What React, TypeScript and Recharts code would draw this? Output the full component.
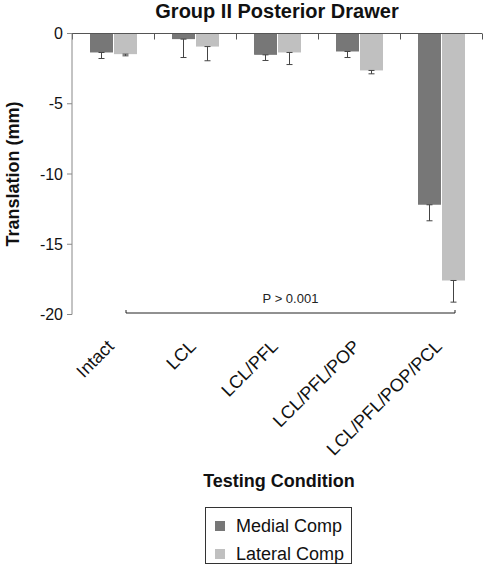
import { BarChart, Bar, XAxis, YAxis, ErrorBar, ReferenceLine, Legend, Label } from "recharts"

const FONT = '"Liberation Sans", Arial, sans-serif'

const conditions = ["Intact", "LCL", "LCL/PFL", "LCL/PFL/POP", "LCL/PFL/POP/PCL"]
const seriesNames = ["Medial Comp", "Lateral Comp"]
const medialComp = [-1.35, -0.4, -1.52, -1.28, -12.19]
const medialSd = [0.43, 1.31, 0.4, 0.43, 1.14]
const lateralComp = [-1.47, -0.93, -1.35, -2.63, -17.58]
const lateralSd = [0.12, 1.01, 0.86, 0.24, 1.54]
const yTicks = [0, -5, -10, -15, -20]

const data = conditions.map((c, i) => ({
  condition: c,
  medial: medialComp[i],
  medialErr: [medialSd[i], 0],
  lateral: lateralComp[i],
  lateralErr: [lateralSd[i], 0],
}))

function ConditionTick({ x, y, payload }: any) {
  const tx = x + 2
  const ty = y + 25
  return (
    <text x={tx} y={ty} transform={`rotate(-45 ${tx} ${ty})`} textAnchor="end" fontSize={18} fill="#111" fontFamily={FONT}>
      {payload.value}
    </text>
  )
}

// zero line with small downward ticks at the category boundaries
function ZeroLine({ x1, y1, x2 }: any) {
  const n = conditions.length
  const step = (x2 - x1) / (n - 1)
  const left = x1 - step / 2
  const y = Math.floor(y1) + 0.5
  const marks = Array.from({ length: n + 1 }, (_, i) => Math.floor(left + i * step) + 0.5)
  return (
    <g>
      <line x1={left} y1={y} x2={left + n * step} y2={y} stroke="#555" strokeWidth={1} />
      {marks.map((m) => (
        <line key={m} x1={m} y1={y} x2={m} y2={y + 6} stroke="#555" strokeWidth={1} />
      ))}
    </g>
  )
}

function Bracket({ x1, y1, x2 }: any) {
  const a = x1 + 13
  const b = x2 + 14
  const y = y1 - 1.5
  return (
    <g>
      <path d={`M${a},${y - 3}V${y}H${b}V${y - 3}`} stroke="#222" strokeWidth={1} fill="none" />
      <text x={(a + b) / 2} y={y - 10} textAnchor="middle" fontSize={13} fill="#222" fontFamily={FONT}>
        P &gt; 0.001
      </text>
    </g>
  )
}

function LegendBox({ payload }: any) {
  const items = seriesNames.map((n) => (payload || []).find((p: any) => p.value === n)).filter(Boolean)
  return (
    <div style={{ width: 147, height: 57, boxSizing: "border-box", border: "1px solid #333", padding: "4px 0 0 9px", fontFamily: FONT }}>
      {items.map((p: any) => (
        <div key={p.value} style={{ display: "flex", alignItems: "center", height: 28, fontSize: 18, color: "#111" }}>
          <span style={{ width: 10, height: 10, background: p.color, marginRight: 11 }} />
          {p.value}
        </div>
      ))}
    </div>
  )
}

export default function App() {
  return (
    <div style={{ position: "absolute", left: 0, top: 0, width: 484, height: 564, background: "#fff", fontFamily: FONT }}>
      <div style={{ position: "absolute", left: 72, width: 410, top: 0, textAlign: "center", fontWeight: "bold", fontSize: 20, color: "#111" }}>
        Group II Posterior Drawer
      </div>
      <BarChart width={484} height={564} data={data} margin={{ top: 33.5, right: 2, left: 0, bottom: 0 }} barSize={23} barGap={1}>
        <XAxis
          dataKey="condition"
          height={249.5}
          axisLine={false}
          tickLine={false}
          interval={0}
          tick={<ConditionTick />}
        >
          <Label
            content={({ viewBox }: any) => (
              <text x={279} y={viewBox.y + 172} textAnchor="middle" fontSize={18} fontWeight="bold" fill="#111" fontFamily={FONT}>
                Testing Condition
              </text>
            )}
          />
        </XAxis>
        <YAxis
          domain={[-20, 0]}
          ticks={yTicks}
          interval={0}
          width={72}
          tickSize={5}
          tickMargin={4}
          stroke="#888"
          tick={{ fontSize: 16, fill: "#111", fontFamily: FONT }}
        >
          <Label
            content={({ viewBox }: any) => {
              const cy = viewBox.y + viewBox.height / 2
              return (
                <text x={19} y={cy} transform={`rotate(-90 19 ${cy})`} textAnchor="middle" fontSize={18} fontWeight="bold" fill="#111" fontFamily={FONT}>
                  Translation (mm)
                </text>
              )
            }}
          />
        </YAxis>
        <Bar dataKey="medial" name="Medial Comp" fill="#777777" isAnimationActive={false}>
          <ErrorBar dataKey="medialErr" direction="y" width={3} stroke="#444" strokeWidth={1} isAnimationActive={false} />
        </Bar>
        <Bar dataKey="lateral" name="Lateral Comp" fill="#c0c0c0" isAnimationActive={false}>
          <ErrorBar dataKey="lateralErr" direction="y" width={3} stroke="#444" strokeWidth={1} isAnimationActive={false} />
        </Bar>
        <ReferenceLine
          segment={[
            { x: conditions[0], y: 0 },
            { x: conditions[conditions.length - 1], y: 0 },
          ]}
          shape={<ZeroLine />}
          ifOverflow="visible"
        />
        <ReferenceLine
          segment={[
            { x: conditions[0], y: -20 },
            { x: conditions[conditions.length - 1], y: -20 },
          ]}
          shape={<Bracket />}
          ifOverflow="visible"
        />
        <Legend
          layout="vertical"
          align="center"
          verticalAlign="middle"
          content={<LegendBox />}
          wrapperStyle={{ top: 507, left: 205, width: 147 }}
        />
      </BarChart>
    </div>
  )
}
